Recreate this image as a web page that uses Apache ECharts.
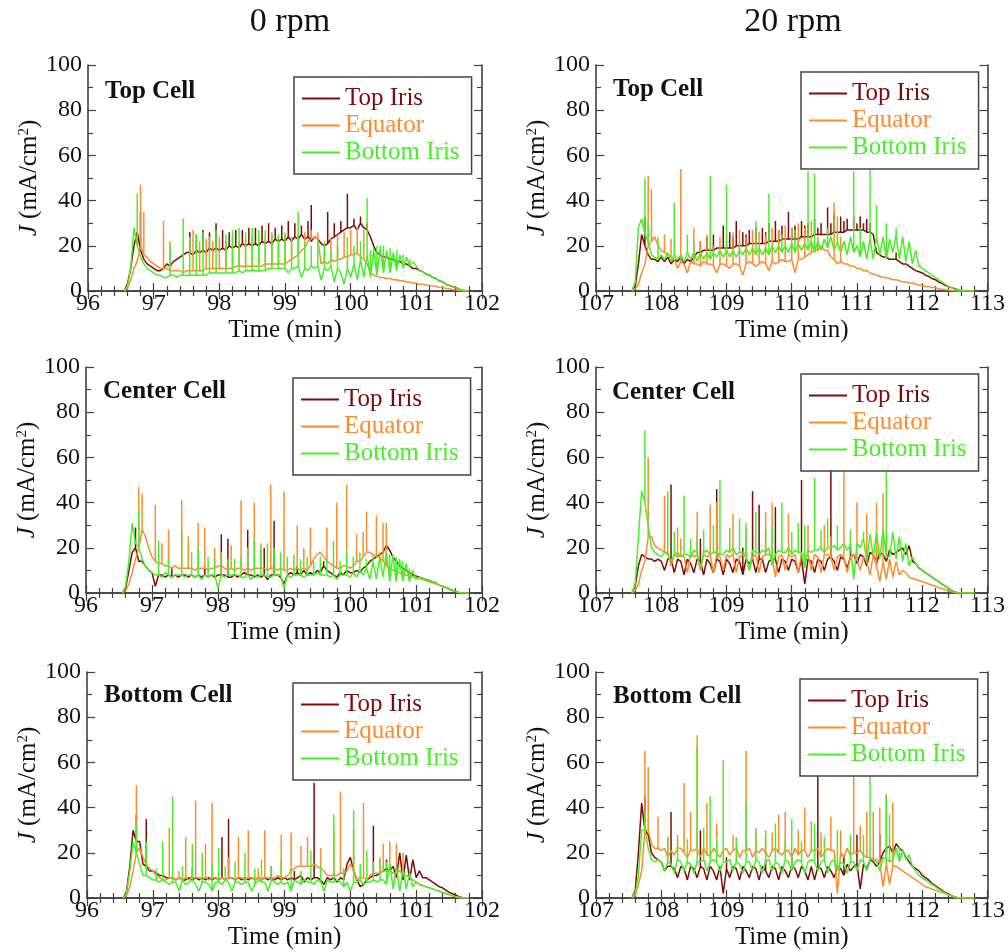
<!DOCTYPE html>
<html>
<head>
<meta charset="utf-8">
<title>Current density per iris</title>
<script src="https://cdn.jsdelivr.net/npm/echarts@6/dist/echarts.min.js"></script>
<style>
  html, body { margin: 0; padding: 0; background: #fff; }
  #chart { width: 1008px; height: 952px; }
</style>
</head>
<body>
<div id="chart"></div>
<script>
// Sampling grid of the recorded traces (minutes)
const leftStart = 96.55;    // 0 rpm runs
const rightStart = 107.55;  // 20 rpm runs
const timeStep = 0.05;

const seriesNames = ['Top Iris', 'Equator', 'Bottom Iris'];
const xRange0 = [96, 102];
const xRange20 = [107, 113];
const yTicks = [0, 100, 20];

// Each trace = a sampled current level (mA/cm^2, one value per time step)
// plus the short current spikes [time, peak] seen on top of it.

// ---- Top cell, 0 rpm ----
const top0TopIrisLevel = [
  0, 3, 10, 20, 26, 18, 14, 12, 11, 10,
  9, 9, 10, 12, 11, 13, 14, 15, 16, 17,
  17, 16, 18, 17, 18, 17, 19, 18, 19, 18,
  19, 18, 20, 19, 20, 19, 21, 20, 21, 20,
  21, 20, 22, 21, 22, 21, 23, 22, 23, 22,
  24, 22, 24, 23, 25, 23, 24, 22, 24, 23,
  21, 20, 21, 23, 24, 25, 26, 27, 28, 28,
  29, 27, 30, 28, 27, 24, 20, 17, 16, 15,
  15, 14, 14, 13, 13, 12, 12, 11, 10, 10,
  9, 8.5, 7.5, 7, 6, 5.5, 4.5, 4, 3, 2.5,
  2, 1.5, 0.8, 0.3, 0, 0
];
const top0TopIrisSpikes = [
  [96.8, 35], [97.55, 26], [97.65, 25], [97.75, 27], [97.85, 26], [97.95, 30],
  [98.05, 27], [98.15, 26], [98.25, 27], [98.35, 27], [98.45, 28], [98.55, 28],
  [98.65, 29], [98.75, 30], [98.85, 28], [98.95, 29], [99.05, 31], [99.15, 30],
  [99.25, 29], [99.35, 31], [99.4, 38], [99.65, 35], [99.75, 30], [99.85, 31],
  [99.95, 43], [100.05, 32], [100.15, 33], [100.25, 30]
];
const top0EquatorLevel = [
  0, 1, 5, 10, 13, 20, 16, 15, 13, 12,
  11, 10, 10, 10, 9, 9, 9, 9, 8, 9,
  9, 9, 9, 9, 9, 10, 10, 10, 10, 10,
  10, 10, 10, 10, 11, 11, 11, 11, 11, 11,
  11, 11, 11, 12, 12, 12, 12, 12, 12, 12,
  13, 14, 15, 16, 18, 19, 22, 23, 24, 23,
  12, 13, 12, 14, 13, 14, 14, 15, 15, 16,
  16, 17, 15, 14, 12, 8, 7, 6.5, 6, 6,
  5.5, 5.5, 5, 5, 4.5, 4.5, 4, 4, 3.5, 3.5,
  3, 3, 2.7, 2.5, 2.2, 2, 1.7, 1.5, 1.2, 1,
  0.7, 0.5, 0.3, 0.1, 0, 0
];
const top0EquatorSpikes = [
  [96.8, 47], [96.85, 35], [97.15, 31], [97.25, 22], [97.6, 27], [97.7, 22],
  [97.8, 23], [97.9, 22], [98.0, 24], [98.1, 22], [98.2, 23], [98.3, 22],
  [98.4, 23], [98.5, 24], [98.6, 23], [98.7, 24], [98.8, 25], [98.9, 24],
  [99.0, 25], [99.1, 24], [99.2, 25], [99.3, 26], [99.4, 27], [99.5, 26],
  [99.6, 22], [99.7, 24], [99.8, 25], [99.9, 26], [100.0, 27], [100.1, 28], [100.2, 27]
];
const top0BottomIrisLevel = [
  0, 2, 10, 28, 20, 15, 12, 10, 9, 8,
  7, 7, 6, 6, 7, 7, 6, 7, 7, 7,
  7, 7, 7, 7, 7, 7, 8, 8, 8, 8,
  8, 8, 8, 8, 8, 9, 8, 9, 9, 9,
  9, 9, 9, 9, 10, 10, 10, 10, 10, 10,
  8, 10, 10, 11, 6, 10, 9, 11, 10, 11,
  5, 10, 9, 11, 4, 10, 8, 3, 10, 6,
  12, 5, 14, 6, 16, 6, 18, 7, 19, 8,
  18, 8, 17, 9, 16, 10, 15, 11, 13, 11,
  9, 8.5, 7.5, 7, 6, 5.5, 4.5, 4, 3, 2.5,
  2, 1.5, 0.8, 0.3, 0, 0
];
const top0BottomIrisSpikes = [
  [96.75, 43], [97.25, 20], [97.45, 32], [97.55, 24], [97.65, 25], [97.75, 26],
  [97.85, 24], [97.95, 27], [98.1, 25], [98.2, 27], [98.3, 28], [98.4, 26],
  [98.5, 28], [98.6, 27], [98.7, 27], [98.8, 26], [98.9, 25], [99.0, 26],
  [99.1, 24], [99.2, 35], [99.3, 22], [99.4, 20], [99.5, 23], [99.6, 21],
  [99.7, 18], [99.8, 20], [99.95, 24], [100.05, 20], [100.15, 22], [100.25, 41],
  [100.3, 18], [100.35, 19], [100.4, 20], [100.45, 20], [100.5, 20], [100.6, 19],
  [100.7, 18], [100.8, 16], [100.9, 14]
];

// ---- Top cell, 20 rpm ----
const top20TopIrisLevel = [
  0, 2, 12, 25, 20, 16, 14, 14, 13, 15,
  13, 15, 12, 14, 13, 15, 12, 14, 13, 15,
  17, 17, 18, 18, 18, 18, 19, 19, 19, 19,
  19, 19, 20, 20, 20, 20, 21, 21, 21, 21,
  21, 21, 22, 22, 22, 22, 23, 23, 23, 23,
  23, 23, 24, 24, 24, 24, 25, 25, 25, 25,
  25, 25, 26, 26, 26, 26, 27, 27, 27, 27,
  27, 27, 26, 26, 25, 17, 16, 15, 15, 14,
  14, 14, 13, 12, 12, 11, 10, 9, 8.5, 8,
  7, 6.5, 5.5, 5, 4, 3.5, 2.5, 2, 1.5, 1,
  0.5, 0, 0, 0, 0, 0
];
const top20TopIrisSpikes = [
  [107.75, 33], [108.6, 22], [108.7, 24], [108.8, 25], [108.95, 29], [109.05, 26],
  [109.1, 24], [109.15, 31], [109.25, 26], [109.3, 25], [109.35, 27], [109.45, 28],
  [109.55, 28], [109.6, 26], [109.65, 30], [109.75, 31], [109.8, 27], [109.85, 29],
  [109.95, 35], [110.0, 28], [110.05, 29], [110.15, 31], [110.2, 29], [110.25, 30],
  [110.35, 32], [110.4, 28], [110.45, 30], [110.55, 37], [110.6, 30], [110.65, 34],
  [110.75, 33], [110.8, 31], [110.85, 32], [110.95, 33], [111.0, 30], [111.05, 33],
  [111.1, 30], [111.15, 32], [111.2, 30], [111.6, 17]
];
const top20EquatorLevel = [
  0, 1, 3, 8, 12, 20, 22, 24, 20, 18,
  17, 16, 15, 14, 10, 13, 12, 8, 13, 12,
  12, 11, 13, 12, 12, 11, 8, 12, 12, 11,
  10, 12, 12, 11, 7, 12, 13, 12, 11, 12,
  13, 12, 9, 13, 12, 13, 14, 13, 13, 14,
  8, 14, 14, 15, 16, 17, 18, 18, 20, 18,
  18, 15, 14, 12, 13, 12, 12, 11, 11, 10,
  10, 9, 9, 8, 7.5, 7, 6.5, 6, 6, 5.5,
  5, 5, 4.5, 4, 4, 3.5, 3.5, 3, 2.5, 2.5,
  2, 2, 1.5, 1.5, 1, 0.8, 0.6, 0.4, 0.2, 0,
  0, 0, 0, 0, 0, 0
];
const top20EquatorSpikes = [
  [107.8, 51], [107.85, 45], [108.05, 25], [108.15, 23], [108.3, 54], [108.5, 28],
  [108.6, 22], [108.7, 25], [108.8, 20], [108.9, 24], [109.0, 22], [109.1, 26],
  [109.2, 27], [109.3, 24], [109.4, 27], [109.5, 26], [109.6, 25], [109.7, 28],
  [109.8, 27], [109.9, 29], [110.0, 28], [110.1, 30], [110.2, 28], [110.3, 31],
  [110.4, 24], [110.65, 39], [110.75, 24]
];
const top20BottomIrisLevel = [
  0, 4, 28, 32, 25, 22, 16, 15, 14, 16,
  14, 17, 13, 16, 14, 16, 13, 17, 14, 17,
  13, 17, 14, 17, 14, 17, 15, 18, 15, 18,
  15, 18, 15, 18, 16, 19, 16, 19, 16, 19,
  16, 19, 16, 20, 17, 20, 17, 20, 17, 21,
  17, 21, 18, 21, 18, 22, 17, 22, 18, 23,
  19, 24, 18, 22, 17, 22, 16, 24, 17, 20,
  15, 22, 14, 23, 14, 24, 16, 24, 14, 23,
  17, 25, 14, 24, 13, 22, 12, 18, 11, 10,
  9, 8, 7, 6, 5, 4, 3, 2, 1.5, 0.8,
  0.3, 0, 0, 0, 0, 0
];
const top20BottomIrisSpikes = [
  [107.75, 50], [107.8, 31], [107.95, 24], [108.2, 39], [108.4, 25], [108.5, 22],
  [108.75, 51], [109.0, 47], [109.2, 22], [109.45, 31], [109.65, 43], [109.85, 25],
  [110.05, 27], [110.25, 53], [110.35, 52], [110.55, 28], [110.7, 33], [110.95, 53],
  [111.05, 28], [111.2, 56], [111.3, 38], [111.45, 30], [111.6, 28]
];

// ---- Center cell, 0 rpm ----
const center0TopIrisLevel = [
  0, 2, 10, 18, 20, 14, 14, 12, 10, 9,
  3, 8, 8, 7, 8, 7, 8, 7, 8, 8,
  7, 8, 7, 8, 7, 8, 7, 8, 7, 8,
  8, 8, 7, 7, 8, 7, 8, 9, 8, 8,
  7, 8, 7, 8, 6, 8, 8, 8, 7, 4,
  8, 9, 8, 9, 8, 10, 8, 9, 8, 10,
  9, 12, 10, 9, 8, 7, 9, 8, 10, 9,
  9, 10, 9, 11, 12, 14, 15, 16, 17, 18,
  21, 19, 16, 14, 12, 11, 10, 9, 8, 7.5,
  7, 6.5, 6, 5.5, 5, 4.5, 3.5, 3, 2.5, 1.8,
  1.2, 0.6, 0.2, 0, 0, 0
];
const center0TopIrisSpikes = [
  [96.75, 29], [97.3, 11], [97.8, 11], [98.05, 26], [98.15, 24], [98.45, 28],
  [98.7, 20], [98.85, 32], [99.2, 12], [99.6, 14]
];
const center0EquatorLevel = [
  0, 1, 4, 9, 15, 20, 28, 25, 20, 16,
  14, 13, 13, 12, 12, 11, 12, 11, 11, 11,
  11, 11, 10, 11, 11, 11, 10, 11, 11, 12,
  12, 11, 10, 11, 10, 11, 11, 10, 11, 10,
  11, 11, 11, 11, 10, 11, 11, 10, 11, 10,
  10, 11, 10, 11, 10, 11, 10, 12, 15, 17,
  18, 16, 14, 13, 12, 11, 11, 12, 12, 11,
  12, 14, 14, 16, 18, 18, 17, 16, 16, 14,
  12, 11, 10, 9.5, 9, 8, 8, 7.5, 7, 7,
  6.5, 6, 5.5, 5, 4.5, 4, 3.5, 3, 2.5, 1.8,
  1.2, 0.6, 0.2, 0, 0, 0
];
const center0EquatorSpikes = [
  [96.8, 47], [96.85, 44], [97.05, 39], [97.15, 22], [97.25, 28], [97.45, 41],
  [97.55, 25], [97.7, 31], [97.8, 29], [97.95, 20], [98.05, 17], [98.2, 21],
  [98.35, 41], [98.55, 40], [98.65, 22], [98.8, 48], [99.0, 45], [99.2, 30],
  [99.3, 20], [99.4, 29], [99.65, 29], [99.8, 40], [99.95, 48], [100.1, 26],
  [100.2, 27], [100.25, 36], [100.4, 34], [100.5, 31], [100.55, 31]
];
const center0BottomIrisLevel = [
  0, 3, 14, 31, 22, 20, 15, 12, 10, 9,
  8, 8, 7, 9, 8, 7, 8, 8, 8, 7,
  8, 8, 7, 8, 6, 8, 7, 8, 8, 2,
  8, 7, 8, 8, 8, 8, 7, 7, 8, 6,
  8, 7, 8, 8, 7, 7, 8, 8, 8, 2,
  8, 7, 8, 8, 8, 7, 8, 8, 8, 9,
  8, 8, 8, 7, 8, 6, 8, 8, 8, 7,
  9, 7, 10, 8, 11, 6, 14, 6, 16, 7,
  18, 5, 17, 5, 15, 5, 13, 5, 10, 6,
  7, 6.5, 6, 5.5, 5, 4.5, 3.5, 3, 2.5, 1.8,
  1.2, 0.6, 0.2, 0, 0, 0
];
const center0BottomIrisSpikes = [
  [96.8, 37], [97.1, 23], [97.25, 15], [97.45, 28], [97.6, 18], [97.7, 20],
  [97.85, 16], [97.95, 14], [98.05, 18], [98.15, 15], [98.25, 15], [98.35, 16],
  [98.45, 20], [98.55, 24], [98.65, 20], [98.75, 22], [98.85, 20], [98.95, 18],
  [99.05, 16], [99.15, 17], [99.25, 15], [99.35, 16], [99.45, 14], [99.55, 16],
  [99.65, 15], [99.75, 23], [99.85, 14], [99.95, 18], [100.05, 16], [100.15, 18],
  [100.25, 15], [100.35, 17], [100.45, 18], [100.6, 17], [100.7, 16], [100.8, 14],
  [100.9, 11]
];

// ---- Center cell, 20 rpm ----
const center20TopIrisLevel = [
  0, 3, 12, 17, 16, 15, 15, 14, 15, 14,
  10, 15, 15, 9, 15, 14, 8, 15, 13, 9,
  15, 14, 8, 15, 13, 9, 15, 14, 8, 15,
  13, 9, 15, 14, 8, 15, 13, 15, 9, 15,
  15, 9, 14, 15, 15, 9, 15, 14, 10, 15,
  14, 9, 15, 4, 15, 14, 9, 15, 14, 10,
  15, 16, 14, 10, 16, 15, 11, 16, 17, 13,
  17, 16, 12, 18, 17, 13, 18, 17, 14, 19,
  17, 18, 19, 20, 17, 21, 14, 13, 11, 10,
  9, 8, 7, 6, 5, 4, 3, 2, 1, 0.5,
  0, 0, 0, 0, 0, 0
];
const center20TopIrisSpikes = [
  [108.15, 48], [108.6, 24], [108.85, 46], [109.25, 20], [109.4, 45], [109.5, 39],
  [109.75, 38], [110.15, 50], [110.6, 58], [110.9, 22], [111.3, 20], [111.8, 21]
];
const center20EquatorLevel = [
  0, 1, 4, 10, 14, 25, 25, 21, 20, 19,
  18, 18, 12, 17, 16, 17, 16, 9, 17, 16,
  17, 10, 17, 16, 17, 9, 17, 16, 10, 17,
  16, 17, 9, 16, 17, 16, 10, 16, 17, 9,
  16, 17, 17, 16, 7, 16, 17, 10, 17, 16,
  17, 9, 17, 16, 17, 10, 17, 16, 9, 17,
  17, 16, 10, 16, 17, 16, 9, 16, 17, 15,
  10, 16, 14, 8, 17, 12, 5, 14, 6, 15,
  7, 14, 8, 10, 9, 7, 6.5, 6, 5.5, 5,
  4.5, 4, 3.5, 3, 2.5, 2, 1.5, 1, 0.5, 0.2,
  0, 0, 0, 0, 0, 0
];
const center20EquatorSpikes = [
  [107.8, 60], [108.05, 43], [108.25, 29], [108.3, 24], [108.55, 36], [108.75, 39],
  [108.85, 40], [109.1, 35], [109.3, 28], [109.6, 36], [109.7, 40], [109.95, 35],
  [110.25, 30], [110.5, 30], [110.6, 25], [110.8, 55], [111.0, 40], [111.15, 35],
  [111.3, 40], [111.4, 44]
];
const center20BottomIrisLevel = [
  0, 4, 25, 45, 40, 30, 20, 18, 17, 16,
  18, 17, 14, 17, 18, 16, 17, 17, 16, 19,
  18, 11, 18, 19, 17, 18, 18, 17, 17, 19,
  18, 20, 17, 18, 18, 17, 10, 19, 18, 17,
  19, 18, 20, 12, 17, 19, 18, 18, 20, 17,
  19, 18, 18, 11, 19, 18, 19, 19, 20, 18,
  20, 20, 21, 19, 20, 22, 19, 21, 6, 22,
  20, 24, 14, 26, 16, 27, 15, 28, 16, 16,
  27, 15, 25, 14, 22, 12, 16, 13, 11, 10,
  9, 8, 7, 6, 5, 4, 3, 2, 1, 0.5,
  0, 0, 0, 0, 0, 0
];
const center20BottomIrisSpikes = [
  [107.75, 72], [108.1, 45], [108.2, 27], [108.35, 43], [108.45, 24], [108.55, 25],
  [108.65, 28], [108.8, 30], [108.9, 50], [109.05, 29], [109.2, 33], [109.3, 31],
  [109.45, 36], [109.6, 28], [109.7, 30], [109.85, 40], [110.0, 27], [110.1, 31],
  [110.2, 30], [110.35, 51], [110.45, 28], [110.55, 33], [110.7, 30], [110.9, 28],
  [111.1, 27], [111.45, 55]
];

// ---- Bottom cell, 0 rpm ----
const bottom0TopIrisLevel = [
  0, 3, 14, 30, 25, 25, 15, 14, 12, 12,
  11, 10, 10, 9, 9, 9, 8, 9, 8, 8,
  9, 8, 9, 8, 9, 8, 9, 8, 9, 8,
  9, 8, 9, 9, 8, 9, 8, 9, 8, 9,
  8, 9, 8, 9, 8, 9, 8, 9, 8, 9,
  8, 9, 8, 9, 10, 7, 9, 8, 9, 9,
  8, 6, 9, 8, 9, 7, 9, 8, 15, 18,
  12, 8, 5, 6, 8, 9, 10, 10, 11, 12,
  13, 12, 14, 9, 20, 8, 19, 8, 17, 9,
  12, 9, 9, 8, 7, 6, 5, 4.5, 3.5, 2.5,
  2, 1.2, 0.6, 0.2, 0, 0
];
const bottom0TopIrisSpikes = [
  [96.75, 37], [96.9, 35], [97.6, 13], [98.05, 27], [98.15, 35], [98.8, 14],
  [99.15, 12], [99.45, 51], [99.95, 15], [100.35, 32], [100.55, 17]
];
const bottom0EquatorLevel = [
  0, 1, 5, 12, 20, 22, 18, 15, 13, 12,
  10, 9, 8, 8, 9, 9, 8, 9, 8, 9,
  8, 9, 9, 9, 8, 9, 8, 9, 9, 8,
  9, 8, 9, 9, 8, 9, 9, 8, 9, 9,
  8, 9, 8, 9, 9, 8, 9, 10, 9, 9,
  10, 12, 13, 14, 14, 14, 14, 14, 15, 14,
  13, 12, 10, 10, 10, 10, 11, 11, 12, 15,
  12, 8, 9, 9, 8, 10, 11, 11, 11, 12,
  12, 12, 11, 11, 12, 10, 10, 9, 8, 7,
  6, 5.5, 5, 4.5, 4, 3.5, 3, 2.5, 2, 1.5,
  1, 0.6, 0.3, 0, 0, 0
];
const bottom0EquatorSpikes = [
  [96.75, 50], [97.25, 31], [97.4, 12], [97.5, 27], [97.65, 43], [97.8, 24],
  [97.9, 42], [98.15, 18], [98.3, 27], [98.45, 30], [98.6, 13], [98.7, 30],
  [98.95, 28], [99.1, 29], [99.25, 23], [99.35, 27], [99.55, 22], [99.75, 30],
  [99.85, 47], [100.05, 30], [100.2, 42], [100.45, 18], [100.5, 24], [100.6, 25],
  [100.7, 24], [100.8, 20]
];
const bottom0BottomIrisLevel = [
  0, 2, 12, 25, 20, 15, 10, 10, 9, 8,
  8, 7, 8, 7, 6, 7, 7, 3, 8, 6,
  7, 8, 6, 3, 7, 7, 6, 3, 7, 7,
  6, 8, 7, 3, 7, 7, 6, 7, 7, 3,
  6, 8, 7, 7, 3, 8, 7, 6, 7, 6,
  7, 3, 8, 7, 6, 8, 7, 7, 6, 8,
  7, 3, 8, 7, 7, 8, 7, 5, 7, 3,
  7, 7, 8, 6, 7, 7, 8, 7, 8, 8,
  6, 15, 4, 14, 3, 13, 4, 11, 5, 7,
  6, 5.5, 5, 4.5, 4, 3.5, 3, 2.5, 2, 1.5,
  1, 0.6, 0.3, 0, 0, 0
];
const bottom0BottomIrisSpikes = [
  [96.75, 32], [96.9, 25], [97.05, 13], [97.15, 25], [97.3, 45], [97.45, 14],
  [97.6, 24], [97.75, 20], [97.9, 15], [98.0, 22], [98.1, 14], [98.25, 16],
  [98.4, 20], [98.55, 13], [98.65, 17], [98.8, 14], [98.95, 17], [99.1, 13],
  [99.25, 12], [99.4, 21], [99.55, 14], [99.75, 37], [99.9, 13], [100.05, 39],
  [100.15, 15], [100.25, 21], [100.35, 16], [100.45, 17], [100.55, 16]
];

// ---- Bottom cell, 20 rpm ----
const bottom20TopIrisLevel = [
  0, 3, 20, 42, 30, 28, 20, 18, 17, 16,
  12, 14, 14, 13, 9, 14, 13, 8, 14, 13,
  9, 14, 13, 8, 14, 12, 8, 14, 2, 13,
  9, 14, 13, 8, 14, 12, 9, 14, 13, 8,
  14, 12, 9, 14, 13, 8, 14, 12, 9, 14,
  13, 9, 14, 12, 8, 14, 8, 14, 13, 9,
  14, 12, 9, 14, 13, 10, 15, 12, 14, 15,
  4, 15, 13, 17, 16, 14, 16, 20, 22, 23,
  20, 24, 22, 21, 18, 16, 14, 13, 12, 10,
  9, 8, 6.5, 5.5, 4.5, 3.5, 2.5, 1.8, 1, 0.5,
  0, 0, 0, 0, 0, 0
];
const bottom20TopIrisSpikes = [
  [107.75, 45], [108.15, 38], [108.6, 30], [109.0, 18], [109.6, 17], [110.0, 18],
  [110.4, 58], [110.8, 19], [111.0, 28], [111.35, 28]
];
const bottom20EquatorLevel = [
  0, 1, 6, 12, 30, 30, 24, 22, 22, 21,
  22, 18, 21, 19, 22, 22, 20, 18, 21, 21,
  22, 18, 22, 19, 19, 22, 20, 18, 21, 22,
  19, 21, 22, 18, 21, 21, 22, 18, 21, 20,
  22, 20, 18, 21, 22, 20, 19, 21, 21, 18,
  22, 19, 21, 21, 18, 21, 21, 22, 18, 20,
  22, 21, 21, 2, 20, 18, 22, 19, 20, 20,
  21, 19, 18, 18, 17, 17, 16, 5, 15, 6,
  14, 14, 13, 12, 11, 10, 9, 8, 7, 6,
  5, 4.5, 4, 3.5, 3, 2.5, 2, 1.5, 1, 0.5,
  0, 0, 0, 0, 0, 0
];
const bottom20EquatorSpikes = [
  [107.75, 65], [107.8, 58], [107.95, 36], [108.1, 27], [108.25, 28], [108.35, 51],
  [108.45, 38], [108.55, 72], [108.7, 42], [108.85, 33], [109.1, 28], [109.3, 65],
  [109.45, 31], [109.6, 27], [109.7, 29], [109.8, 37], [109.9, 38], [110.1, 30],
  [110.2, 40], [110.3, 34], [110.45, 29], [110.6, 36], [110.75, 30], [110.95, 54],
  [111.05, 32], [111.15, 38], [111.25, 38], [111.35, 40], [111.45, 46], [111.55, 42]
];
const bottom20BottomIrisLevel = [
  0, 2, 10, 30, 30, 22, 17, 16, 17, 16,
  12, 16, 15, 11, 17, 16, 12, 16, 15, 11,
  16, 16, 17, 12, 16, 17, 16, 12, 16, 16,
  17, 12, 16, 15, 11, 16, 16, 12, 17, 16,
  11, 16, 17, 12, 16, 15, 11, 17, 16, 12,
  16, 17, 16, 11, 16, 17, 16, 12, 16, 17,
  11, 16, 17, 12, 16, 15, 11, 16, 16, 12,
  17, 16, 12, 17, 17, 16, 12, 18, 17, 16,
  17, 22, 16, 21, 17, 19, 14, 12, 10, 9,
  8, 7, 6, 5, 4, 3, 2.2, 1.5, 0.8, 0.3,
  0, 0, 0, 0, 0, 0
];
const bottom20BottomIrisSpikes = [
  [107.75, 38], [108.1, 27], [108.25, 24], [108.4, 26], [108.55, 67], [108.65, 31],
  [108.75, 45], [108.85, 26], [108.95, 61], [109.15, 27], [109.3, 43], [109.45, 28],
  [109.6, 30], [109.75, 33], [109.9, 26], [110.0, 35], [110.15, 25], [110.35, 33],
  [110.5, 27], [110.7, 30], [110.9, 28], [111.1, 28], [111.2, 55], [111.45, 45],
  [111.5, 37], [111.65, 23]
];

// ---------------------------------------------------------------
const COLORS = ['#7d0b0b', '#ff8b2c', '#48ef29'];
const FONT = '"Liberation Serif", "Times New Roman", serif';
const FRAME = '#404040';

const panels = [
  { label: 'Top Cell', start: leftStart, x: xRange0,
    traces: [[top0TopIrisLevel, top0TopIrisSpikes], [top0EquatorLevel, top0EquatorSpikes], [top0BottomIrisLevel, top0BottomIrisSpikes]],
    grid: { left: 88, top: 65, width: 394, height: 226 }, legend: { left: 294, top: 77 }, labelAt: [105, 92] },
  { label: 'Top Cell', start: rightStart, x: xRange20,
    traces: [[top20TopIrisLevel, top20TopIrisSpikes], [top20EquatorLevel, top20EquatorSpikes], [top20BottomIrisLevel, top20BottomIrisSpikes]],
    grid: { left: 596, top: 65, width: 393, height: 226 }, legend: { left: 801, top: 72 }, labelAt: [613, 90] },
  { label: 'Center Cell', start: leftStart, x: xRange0,
    traces: [[center0TopIrisLevel, center0TopIrisSpikes], [center0EquatorLevel, center0EquatorSpikes], [center0BottomIrisLevel, center0BottomIrisSpikes]],
    grid: { left: 86, top: 367, width: 396, height: 226 }, legend: { left: 293, top: 378 }, labelAt: [103, 392] },
  { label: 'Center Cell', start: rightStart, x: xRange20,
    traces: [[center20TopIrisLevel, center20TopIrisSpikes], [center20EquatorLevel, center20EquatorSpikes], [center20BottomIrisLevel, center20BottomIrisSpikes]],
    grid: { left: 596, top: 367, width: 393, height: 226 }, legend: { left: 801, top: 374 }, labelAt: [612, 393] },
  { label: 'Bottom Cell', start: leftStart, x: xRange0,
    traces: [[bottom0TopIrisLevel, bottom0TopIrisSpikes], [bottom0EquatorLevel, bottom0EquatorSpikes], [bottom0BottomIrisLevel, bottom0BottomIrisSpikes]],
    grid: { left: 87, top: 672, width: 395, height: 226 }, legend: { left: 293, top: 683 }, labelAt: [104, 696] },
  { label: 'Bottom Cell', start: rightStart, x: xRange20,
    traces: [[bottom20TopIrisLevel, bottom20TopIrisSpikes], [bottom20EquatorLevel, bottom20EquatorSpikes], [bottom20BottomIrisLevel, bottom20BottomIrisSpikes]],
    grid: { left: 596, top: 672, width: 393, height: 226 }, legend: { left: 800, top: 679 }, labelAt: [613, 697] }
];

// Turn a level array + spike list into [time, J] points; a spike is drawn as
// an excursion to its peak and back at the sample it belongs to.
function tracePoints(level, spikes, start) {
  const peaks = new Map();
  spikes.forEach(([t, peak]) => peaks.set(Math.round((t - start) / timeStep), peak));
  const pts = [];
  level.forEach((v, i) => {
    const t = Number((start + timeStep * i).toFixed(2));
    pts.push([t, v]);
    if (peaks.has(i)) {
      pts.push([t, peaks.get(i)]);
      pts.push([t, v]);
    }
  });
  return pts;
}

const tickLine = { color: FRAME, width: 1.2 };
const frameLine = { show: true, lineStyle: { color: FRAME, width: 1.6 } };

function xAxisPair(g, range) {
  const common = {
    gridIndex: g, type: 'value', min: range[0], max: range[1], interval: 1,
    axisLine: frameLine,
    axisTick: { show: true, inside: true, length: 8, lineStyle: tickLine },
    minorTick: { show: true, splitNumber: 5, length: 5, lineStyle: tickLine },
    splitLine: { show: false }, minorSplitLine: { show: false }
  };
  return [
    Object.assign({}, common, {
      position: 'bottom',
      axisLabel: { fontFamily: FONT, fontSize: 24, color: '#111', margin: 1 },
      name: 'Time (min)', nameLocation: 'middle', nameGap: 27,
      nameTextStyle: { fontFamily: FONT, fontSize: 25, color: '#111' }
    }),
    Object.assign({}, common, { position: 'top', axisLabel: { show: false } })
  ];
}

function yAxisPair(g) {
  const common = {
    gridIndex: g, type: 'value', min: yTicks[0], max: yTicks[1], interval: yTicks[2],
    axisLine: frameLine,
    axisTick: { show: true, inside: true, length: 8, lineStyle: tickLine },
    minorTick: { show: true, splitNumber: 2, length: 5, lineStyle: tickLine },
    splitLine: { show: false }, minorSplitLine: { show: false }
  };
  return [
    Object.assign({}, common, {
      position: 'left',
      axisLabel: { fontFamily: FONT, fontSize: 24, color: '#111', margin: 6, padding: [0, 0, 8, 0] },
      name: '{i|J} (mA/cm{s|2})', nameLocation: 'middle', nameGap: 42,
      nameTextStyle: {
        fontFamily: FONT, fontSize: 25, color: '#111',
        rich: {
          i: { fontFamily: FONT, fontSize: 25, fontStyle: 'italic', color: '#111' },
          s: { fontFamily: FONT, fontSize: 15, color: '#111', verticalAlign: 'top', padding: [0, 0, 12, 0] }
        }
      }
    }),
    Object.assign({}, common, { position: 'right', axisLabel: { show: false } })
  ];
}

const option = {
  animation: false,
  backgroundColor: '#fff',
  grid: panels.map(p => Object.assign({ containLabel: false }, p.grid)),
  xAxis: panels.flatMap((p, g) => xAxisPair(g, p.x)),
  yAxis: panels.flatMap((p, g) => yAxisPair(g)),
  legend: panels.map(p => ({
    left: p.legend.left, top: p.legend.top, orient: 'vertical',
    data: seriesNames.map((n, k) => ({ name: n, textStyle: { color: COLORS[k] } })),
    icon: 'rect', itemWidth: 38, itemHeight: 2, itemGap: 0,
    padding: [8, 12, 8, 8],
    backgroundColor: '#fff', borderColor: '#444', borderWidth: 1.5,
    textStyle: { fontFamily: FONT, fontSize: 25, lineHeight: 27 },
    selectedMode: false, z: 10
  })),
  series: panels.flatMap((p, g) => p.traces.map(([level, spikes], k) => ({
    type: 'line', name: seriesNames[k],
    xAxisIndex: 2 * g, yAxisIndex: 2 * g,
    symbol: 'none', showSymbol: false,
    lineStyle: { color: COLORS[k], width: 1.5 },
    itemStyle: { color: COLORS[k] },
    data: tracePoints(level, spikes, p.start)
  }))),
  graphic: [
    { type: 'text', x: 290, y: 22, style: { text: '0 rpm', fontFamily: FONT, fontSize: 34, fill: '#111', align: 'center', verticalAlign: 'middle' } },
    { type: 'text', x: 793, y: 22, style: { text: '20 rpm', fontFamily: FONT, fontSize: 34, fill: '#111', align: 'center', verticalAlign: 'middle' } }
  ].concat(panels.map(p => ({
    type: 'text', x: p.labelAt[0], y: p.labelAt[1], z: 20,
    style: { text: p.label, fontFamily: FONT, fontSize: 25, fontWeight: 'bold', fill: '#111', align: 'left', verticalAlign: 'middle' }
  })))
};

const chart = echarts.init(document.getElementById('chart'), null, { renderer: 'canvas' });
chart.setOption(option);
</script>
</body>
</html>
